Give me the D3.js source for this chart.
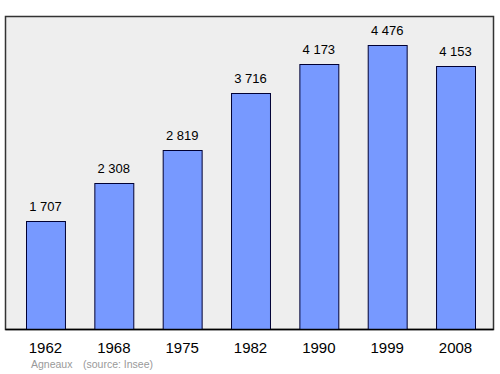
<!DOCTYPE html>
<html>
<head>
<meta charset="utf-8">
<script src="https://cdn.jsdelivr.net/npm/d3@7/dist/d3.min.js"></script>
<style>
  body { margin: 0; background: #fff; }
  svg { display: block; font-family: "Liberation Sans", Arial, sans-serif; }
</style>
</head>
<body>
<svg id="chart" width="500" height="374"></svg>
<script>
// population data
const years = ['1962', '1968', '1975', '1982', '1990', '1999', '2008'];
const population = [1707, 2308, 2819, 3716, 4173, 4476, 4153];
const valueLabels = ['1 707', '2 308', '2 819', '3 716', '4 173', '4 476', '4 153'];

const svg = d3.select('#chart');

const frame = { left: 5.5, top: 16.5, right: 493.5, bottom: 329.5 };

const x = d3.scaleBand().domain(years).range([26, 475]).paddingInner(0.43).paddingOuter(0);
const y = d3.scaleLinear().domain([0, 4476]).range([frame.bottom, 45]);

// plot background
svg.append('rect')
  .attr('x', frame.left).attr('y', frame.top)
  .attr('width', frame.right - frame.left).attr('height', frame.bottom - frame.top)
  .attr('fill', '#eeeeee')
  .attr('stroke', '#333')
  .attr('stroke-width', 1.5);

// bars
svg.append('g').selectAll('rect')
  .data(years)
  .join('rect')
  .attr('x', d => x(d) + 0.5)
  .attr('y', (d, i) => Math.round(y(population[i])) + 0.5)
  .attr('width', x.bandwidth())
  .attr('height', (d, i) => frame.bottom - Math.round(y(population[i])) - 0.5)
  .attr('fill', '#7799ff')
  .attr('stroke', '#000033')
  .attr('stroke-width', 1);

// value labels
svg.append('g').selectAll('text')
  .data(years)
  .join('text')
  .attr('x', d => x(d) + x.bandwidth() / 2)
  .attr('y', (d, i) => y(population[i]) - 10)
  .attr('text-anchor', 'middle')
  .attr('font-size', 13)
  .attr('fill', '#000')
  .text((d, i) => valueLabels[i]);

// year axis labels
svg.append('g').selectAll('text')
  .data(years)
  .join('text')
  .attr('x', d => x(d) + x.bandwidth() / 2)
  .attr('y', 353)
  .attr('text-anchor', 'middle')
  .attr('font-size', 15)
  .attr('fill', '#000')
  .text(d => d);

// footer
svg.append('text')
  .attr('x', 31).attr('y', 368)
  .attr('font-size', 10.5)
  .attr('fill', '#999')
  .text('Agneaux');
svg.append('text')
  .attr('x', 83).attr('y', 368)
  .attr('font-size', 10.5)
  .attr('fill', '#999')
  .text('(source: Insee)');

// bottom frame line (darker)
svg.append('line')
  .attr('x1', frame.left).attr('x2', frame.right)
  .attr('y1', frame.bottom).attr('y2', frame.bottom)
  .attr('stroke', '#000').attr('stroke-width', 1.5);
</script>
</body>
</html>
